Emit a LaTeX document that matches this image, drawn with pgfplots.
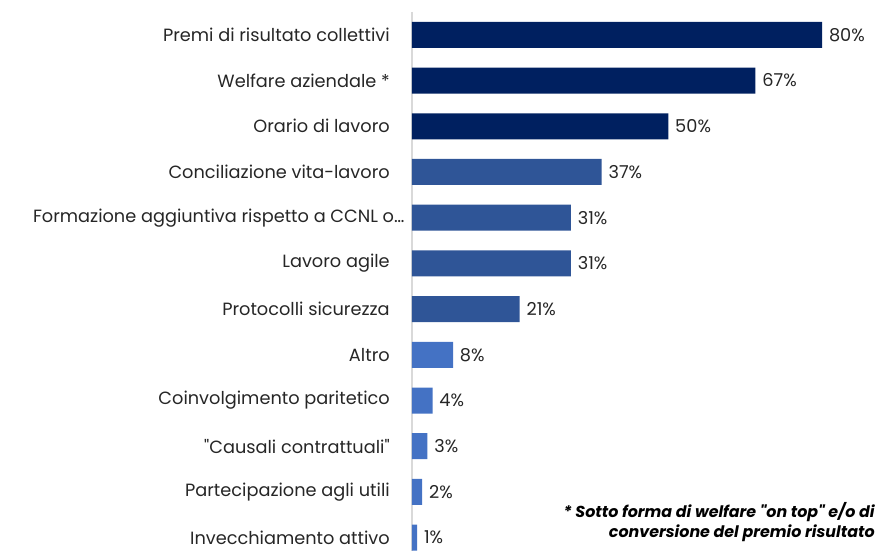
\documentclass[border=0pt]{standalone}
\usepackage{pgfplots}
\pgfplotsset{compat=1.18}
\usepackage{fontspec}
\setmainfont{Poppins}
\definecolor{cdark}{HTML}{002060}
\definecolor{cmid}{HTML}{2F5597}
\definecolor{clight}{HTML}{4472C4}
\definecolor{ctext}{HTML}{262626}
\begin{document}
\begin{tikzpicture}
\begin{axis}[
  name=ax,
  xbar, bar shift=0pt, bar width=19.5pt,
  scale only axis, width=351pt, height=404.5pt,
  xmin=0, xmax=91.3, ymin=-0.5, ymax=11.3, y dir=reverse,
  axis x line=none, axis y line=left,
  y axis line style={-, draw=black!15, line width=0.8pt},
  ytick={0,...,11}, ytick style={draw=none}, major tick length=0pt,
  yticklabels={Premi di risultato collettivi, Welfare aziendale *, Orario di lavoro, Conciliazione vita-lavoro, {Formazione aggiuntiva rispetto a CCNL o…\kern-11pt}, Lavoro agile, Protocolli sicurezza, Altro, Coinvolgimento paritetico, \textquotedbl Causali contrattuali\textquotedbl, Partecipazione agli utili, Invecchiamento attivo},
  yticklabel style={anchor=east, inner sep=0pt, xshift=-16.5pt, font=\fontsize{13.3}{15}\selectfont, text=ctext},
  point meta=x,
  nodes near coords={\pgfmathprintnumber[assume math mode=true]{\pgfplotspointmeta}\%},
  nodes near coords style={anchor=west, inner sep=0pt, xshift=5pt, font=\fontsize{13.3}{15}\selectfont, text=ctext},
]
\addplot[fill=cdark, draw=none] coordinates {(80,0) (67,1) (50,2)};
\addplot[fill=cmid, draw=none] coordinates {(37,3) (31,4) (31,5) (21,6)};
\addplot[fill=clight, draw=none] coordinates {(8,7) (4,8) (3,9) (2,10) (1,11)};
\node[anchor=base east, inner sep=0pt, font=\fontsize{11.9}{14}\selectfont\bfseries\itshape, text=black] at (axis cs:90.3,10.57) {* Sotto forma di welfare \textquotedbl on top\textquotedbl{} e/o di};
\node[anchor=base east, inner sep=0pt, font=\fontsize{11.9}{14}\selectfont\bfseries\itshape, text=black] at (axis cs:90.3,11.0) {conversione del premio risultato};
\coordinate (tr) at (axis cs:91.3,-0.5);
\coordinate (bl) at (axis cs:0,11.3);
\end{axis}
\pgfresetboundingbox
\path ([xshift=-309pt,yshift=-0.5pt]bl) rectangle ([yshift=9pt]tr);
\end{tikzpicture}
\end{document}
